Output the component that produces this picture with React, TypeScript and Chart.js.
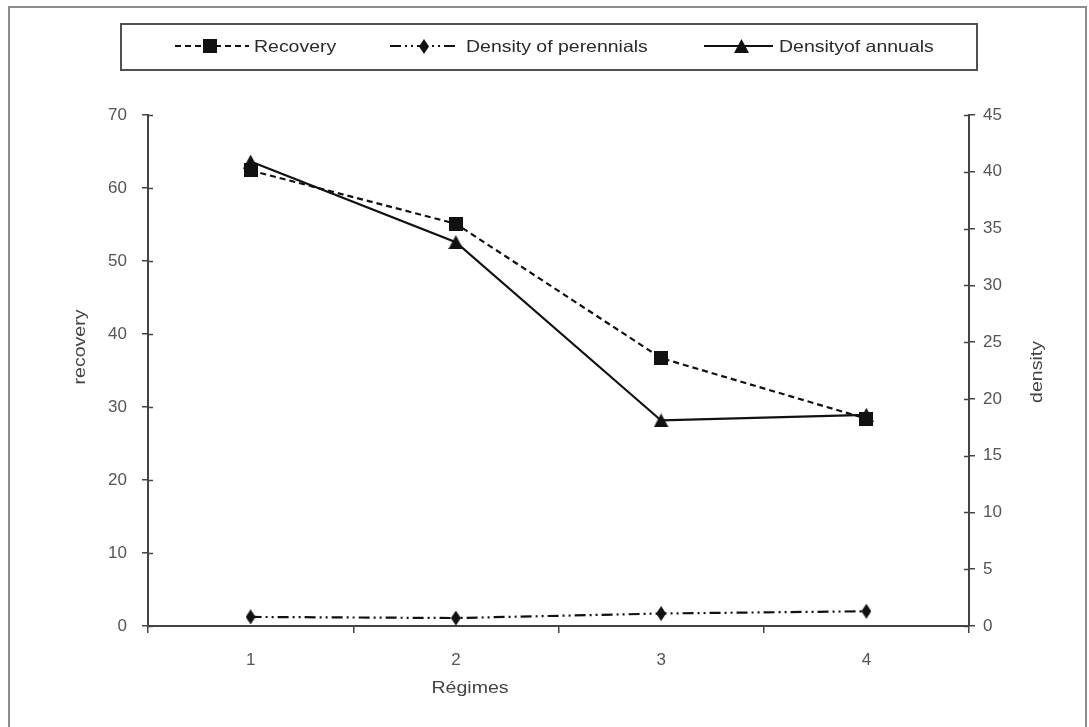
import React, { useEffect, useRef } from 'react';
import { Chart, registerables } from 'chart.js';

Chart.register(...registerables);

// ---- data ----
const regimes = ['1', '2', '3', '4'];
const recovery = [62.4, 55.1, 36.7, 28.4];
const densityPerennials = [0.8, 0.7, 1.1, 1.3];
const densityAnnuals = [40.9, 33.8, 18.1, 18.6];
const seriesNames = ['Recovery', 'Density of perennials', 'Densityof annuals'];
const recoveryAxis = { min: 0, max: 70, step: 10 };
const densityAxis = { min: 0, max: 45, step: 5 };
const axisTitles = { left: 'recovery', right: 'density', bottom: 'Régimes' };

const FONT = '"Liberation Sans", Arial, sans-serif';
const INK = '#111';

function makeMarker(kind: string, w: number, h: number): HTMLCanvasElement {
  const c = document.createElement('canvas');
  c.width = w;
  c.height = h;
  const g = c.getContext('2d')!;
  g.fillStyle = INK;
  g.beginPath();
  if (kind === 'square') {
    g.rect(0, 0, w, h);
  } else if (kind === 'diamond') {
    g.moveTo(w / 2, 0);
    g.lineTo(w, h / 2);
    g.lineTo(w / 2, h);
    g.lineTo(0, h / 2);
    g.closePath();
  } else {
    g.moveTo(w / 2, 0);
    g.lineTo(w, h);
    g.lineTo(0, h);
    g.closePath();
  }
  g.fill();
  return c;
}

const boxLegend = {
  id: 'boxLegend',
  afterDraw(chart: any) {
    const ctx = chart.ctx as CanvasRenderingContext2D;
    ctx.save();
    ctx.setLineDash([]);
    ctx.strokeStyle = '#505050';
    ctx.lineWidth = 2;
    ctx.strokeRect(121, 24, 856, 46);
    const slots = [
      { x0: 175, x1: 249, mx: 210, tx: 254 },
      { x0: 390, x1: 459, mx: 424, tx: 466 },
      { x0: 704, x1: 773, mx: 741, tx: 779 },
    ];
    const yc = 46;
    chart.data.datasets.forEach((ds: any, i: number) => {
      const s = slots[i];
      ctx.save();
      ctx.strokeStyle = ds.borderColor;
      ctx.lineWidth = ds.borderWidth;
      ctx.setLineDash(ds.borderDash || []);
      ctx.beginPath();
      ctx.moveTo(s.x0, yc);
      ctx.lineTo(s.x1, yc);
      ctx.stroke();
      ctx.restore();
      const img = ds.pointStyle as HTMLCanvasElement;
      ctx.drawImage(img, Math.round(s.mx - img.width / 2), Math.round(yc - img.height / 2));
      ctx.save();
      ctx.translate(s.tx, yc);
      ctx.scale(1.18, 1);
      ctx.font = `16.5px ${FONT}`;
      ctx.fillStyle = '#2a2a2a';
      ctx.textBaseline = 'middle';
      ctx.textAlign = 'left';
      ctx.fillText(ds.label, 0, 1);
      ctx.restore();
    });
    ctx.restore();
  },
};

const axisExtras = {
  id: 'axisExtras',
  afterDraw(chart: any) {
    const ctx = chart.ctx as CanvasRenderingContext2D;
    const area = chart.chartArea;
    ctx.save();
    ctx.setLineDash([]);
    ctx.strokeStyle = '#444';
    ctx.lineWidth = 1.5;
    // inward part of the crossing tick marks on both value axes
    ['yL', 'yR'].forEach((id) => {
      const sc = chart.scales[id];
      const x = id === 'yL' ? area.left : area.right;
      const dir = id === 'yL' ? 1 : -1;
      sc.ticks.forEach((t: any) => {
        const y = Math.round(sc.getPixelForValue(t.value)) + 0.5;
        ctx.beginPath();
        ctx.moveTo(x, y);
        ctx.lineTo(x + dir * 5, y);
        ctx.stroke();
      });
    });
    // axis titles
    ctx.fillStyle = '#444';
    ctx.font = `17px ${FONT}`;
    ctx.textAlign = 'center';
    ctx.textBaseline = 'middle';
    ctx.save();
    ctx.translate(80, 347);
    ctx.rotate(-Math.PI / 2);
    ctx.scale(1.15, 1);
    ctx.fillText(axisTitles.left, 0, 0);
    ctx.restore();
    ctx.save();
    ctx.translate(1037, 372);
    ctx.rotate(-Math.PI / 2);
    ctx.scale(1.15, 1);
    ctx.fillText(axisTitles.right, 0, 0);
    ctx.restore();
    ctx.save();
    ctx.translate(470, 688);
    ctx.scale(1.15, 1);
    ctx.fillText(axisTitles.bottom, 0, 0);
    ctx.restore();
    ctx.restore();
  },
};

export default function App() {
  const ref = useRef<HTMLCanvasElement>(null);

  useEffect(() => {
    const square = makeMarker('square', 14, 14);
    const diamond = makeMarker('diamond', 10, 15);
    const triangle = makeMarker('triangle', 15, 14);
    const tickFont = { family: FONT, size: 17 };
    const chart = new Chart(ref.current!, {
      type: 'line',
      data: {
        labels: regimes,
        datasets: [
          {
            label: seriesNames[0],
            data: recovery,
            yAxisID: 'yL',
            borderColor: INK,
            borderWidth: 2.2,
            borderDash: [6, 4],
            pointStyle: square as any,
            pointRadius: 7,
            tension: 0,
          },
          {
            label: seriesNames[1],
            data: densityPerennials,
            yAxisID: 'yR',
            borderColor: INK,
            borderWidth: 2.2,
            borderDash: [11, 4, 2, 4, 2, 4],
            pointStyle: diamond as any,
            pointRadius: 7,
            tension: 0,
          },
          {
            label: seriesNames[2],
            data: densityAnnuals,
            yAxisID: 'yR',
            borderColor: INK,
            borderWidth: 2.2,
            pointStyle: triangle as any,
            pointRadius: 7,
            tension: 0,
          },
        ] as any,
      },
      options: {
        responsive: false,
        animation: false,
        devicePixelRatio: 1,
        layout: { padding: { top: 115, left: 0, right: 0, bottom: 0 } },
        plugins: { legend: { display: false }, tooltip: { enabled: false } },
        scales: {
          x: {
            type: 'category',
            offset: true,
            grid: { offset: true, drawOnChartArea: false, drawTicks: true, tickLength: 7, color: '#444', lineWidth: 1.5 },
            border: { color: '#444', width: 2 },
            ticks: { color: '#555', font: tickFont, padding: 17, maxRotation: 0 },
            afterFit: (s: any) => { s.height = 101; },
          },
          yL: {
            type: 'linear',
            position: 'left',
            min: recoveryAxis.min,
            max: recoveryAxis.max,
            grid: { drawOnChartArea: false, drawTicks: true, tickLength: 6, color: '#444', lineWidth: 1.5 },
            border: { color: '#444', width: 2 },
            ticks: { stepSize: recoveryAxis.step, color: '#555', font: tickFont, padding: 15 },
            afterFit: (s: any) => { s.width = 148; },
          },
          yR: {
            type: 'linear',
            position: 'right',
            min: densityAxis.min,
            max: densityAxis.max,
            grid: { drawOnChartArea: false, drawTicks: true, tickLength: 6, color: '#444', lineWidth: 1.5 },
            border: { color: '#444', width: 2 },
            ticks: { stepSize: densityAxis.step, color: '#555', font: tickFont, padding: 8 },
            afterFit: (s: any) => { s.width = 120; },
          },
        },
      } as any,
      plugins: [boxLegend, axisExtras],
    });
    return () => chart.destroy();
  }, []);

  return (
    <div style={{ position: 'fixed', left: 0, top: 0, width: 1089, height: 727, overflow: 'hidden', background: '#fff' }}>
      <div style={{ position: 'absolute', left: 8, top: 6, width: 1075, height: 760, border: '2px solid #8c8c8c' }} />
      <canvas ref={ref} width={1089} height={727} style={{ position: 'absolute', left: 0, top: 0, width: 1089, height: 727 }} />
    </div>
  );
}
